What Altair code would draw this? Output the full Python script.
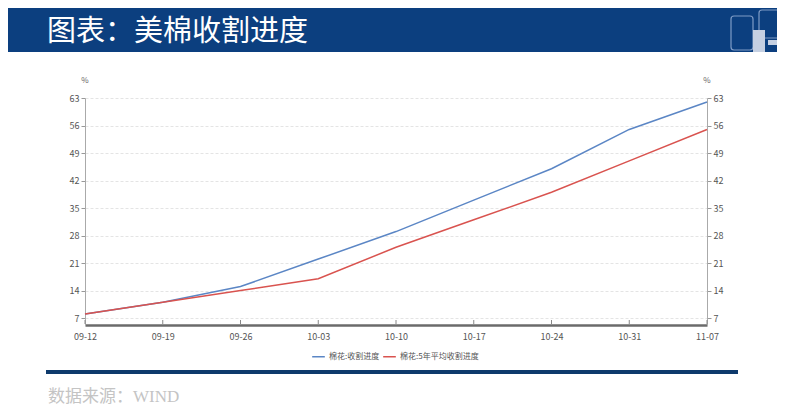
import altair as alt
import pandas as pd

# ---- data ----
dates = ["09-12", "09-19", "09-26", "10-03", "10-10", "10-17", "10-24", "10-31", "11-07"]
harvest = [8, 11, 15, 22, 29, 37, 45, 55, 62]
avg5 = [8, 11, 14, 17, 25, 32, 39, 47, 55]
series_names = ["棉花:收割进度", "棉花:5年平均收割进度"]
series_colors = ["#5b86c5", "#d9534f"]
y_ticks = [7, 14, 21, 28, 35, 42, 49, 56, 63]
title_text = "图表：美棉收割进度"
source_text = "数据来源：WIND"

rows = []
for d, a, b in zip(dates, harvest, avg5):
    rows.append({"date": d, "series": series_names[0], "value": a})
    rows.append({"date": d, "series": series_names[1], "value": b})
df = pd.DataFrame(rows)
one = pd.DataFrame({"k": [0]})
ticks_df = pd.DataFrame({"date": dates})

W, H = 622, 227
PL, PT, PR, PB = 77, 90, 70, 85
ydom = [5.22, 63]
xscale = alt.Scale(type="point", domain=dates, padding=0)

label_font = "Noto Sans CJK SC"

xaxis = alt.Axis(title=None, ticks=False, labelPadding=7, labelFontSize=9,
                 labelColor="#555", labelFont=label_font, domainColor="#6b6b6b",
                 domainWidth=2.5, labelAngle=0, grid=False)
X = alt.X("date:N", scale=xscale, sort=dates, axis=xaxis)

left_lines = alt.Chart(df).mark_line(strokeWidth=1.5).encode(
    x=X,
    y=alt.Y("value:Q", scale=alt.Scale(domain=ydom, nice=False, zero=False),
            axis=alt.Axis(title=None, values=y_ticks, orient="left", labelFontSize=9,
                          labelColor="#555", labelFont=label_font, tickSize=4,
                          tickColor="#999", domainColor="#aaa", labelPadding=2,
                          grid=True, gridColor="#e4e4e4", gridDash=[3, 2])),
    color=alt.Color("series:N",
                    scale=alt.Scale(domain=series_names, range=series_colors),
                    legend=alt.Legend(title=None, orient="none", direction="horizontal",
                                      legendX=226, legendY=251, symbolType="stroke",
                                      symbolStrokeWidth=1.5, symbolSize=160,
                                      labelFontSize=8, labelColor="#555",
                                      labelFont=label_font, columnPadding=0,
                                      labelOffset=3, symbolOffset=0)),
)

right_axis = alt.Chart(df).mark_line(opacity=0).encode(
    x=X,
    y=alt.Y("value:Q", scale=alt.Scale(domain=ydom, nice=False, zero=False),
            axis=alt.Axis(title=None, values=y_ticks, orient="right", labelFontSize=9,
                          labelColor="#555", labelFont=label_font, tickSize=4,
                          tickColor="#999", domainColor="#aaa", labelPadding=2,
                          grid=False)),
    detail="series:N",
)

xticks = alt.Chart(ticks_df).mark_rule(color="#888", strokeWidth=1).encode(
    x=X,
    y=alt.value(H - 5), y2=alt.value(H - 1),
)

banner = alt.Chart(one).mark_rect(color="#0c3f7f").encode(
    x=alt.value(-PL), x2=alt.value(W + PR), y=alt.value(-PT - 8), y2=alt.value(-46)
)
title = alt.Chart(one).mark_text(text=title_text, color="white", fontSize=29,
                                 font=label_font, align="left", baseline="middle").encode(
    x=alt.value(-38), y=alt.value(-66)
)
logo1 = alt.Chart(one).mark_rect(fill=None, stroke="#7f9cc6", strokeWidth=1.2,
                                 cornerRadius=3).encode(
    x=alt.value(646), x2=alt.value(668), y=alt.value(-82), y2=alt.value(-48)
)
logo2 = alt.Chart(one).mark_rect(fill=None, stroke="#7f9cc6", strokeWidth=1.2,
                                 cornerRadius=3).encode(
    x=alt.value(674), x2=alt.value(700), y=alt.value(-88), y2=alt.value(-60)
)
logo3 = alt.Chart(one).mark_rect(color="#c5d0e2").encode(
    x=alt.value(668), x2=alt.value(680), y=alt.value(-68), y2=alt.value(-46)
)
logo4 = alt.Chart(one).mark_rect(color="#c5d0e2").encode(
    x=alt.value(683), x2=alt.value(700), y=alt.value(-58), y2=alt.value(-53)
)

pct_left = alt.Chart(one).mark_text(text="%", fontSize=8, color="#666",
                                    font=label_font).encode(x=alt.value(0), y=alt.value(-17))
pct_right = alt.Chart(one).mark_text(text="%", fontSize=8, color="#666",
                                     font=label_font).encode(x=alt.value(W), y=alt.value(-17))

footer_rule = alt.Chart(one).mark_rect(color="#0e3a6c").encode(
    x=alt.value(-39), x2=alt.value(653), y=alt.value(272), y2=alt.value(276)
)
source = alt.Chart(one).mark_text(text=source_text, color="#c4c4c4", fontSize=17,
                                  font="Liberation Serif, Noto Sans CJK SC",
                                  align="left", baseline="middle").encode(
    x=alt.value(-37), y=alt.value(299)
)

chart = alt.layer(
    banner, title, logo1, logo2, logo3, logo4,
    left_lines, right_axis, xticks, pct_left, pct_right, footer_rule, source
).resolve_scale(y="independent").resolve_axis(y="independent").properties(
    width=W, height=H,
    padding={"left": PL, "top": PT, "right": PR, "bottom": PB},
    autosize=alt.AutoSizeParams(type="none"),
).configure_view(stroke=None)

chart.save("out.html", embed_options={"renderer": "svg", "actions": False})
